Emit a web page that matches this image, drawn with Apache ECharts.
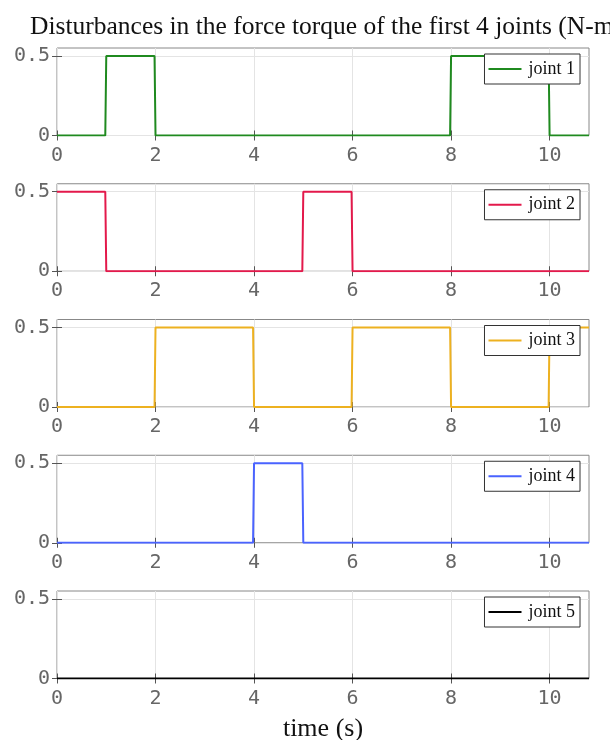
<!DOCTYPE html>
<html>
<head>
<meta charset="utf-8">
<script src="https://cdn.jsdelivr.net/npm/echarts@6/dist/echarts.min.js"></script>
<style>
  html, body { margin: 0; padding: 0; background: #fff; }
  #chart { width: 610px; height: 740px; }
</style>
</head>
<body>
<div id="chart"></div>
<script>
// Disturbance torque profiles, as [time (s), torque (N-m)] breakpoints
const joint1 = [[0, 0], [0.98, 0], [1.0, 0.5], [1.98, 0.5], [2.0, 0], [7.98, 0], [8.0, 0.5], [9.98, 0.5], [10.0, 0], [10.8, 0]];
const joint2 = [[0, 0.5], [0.98, 0.5], [1.0, 0], [4.98, 0], [5.0, 0.5], [5.98, 0.5], [6.0, 0], [10.8, 0]];
const joint3 = [[0, 0], [1.98, 0], [2.0, 0.5], [3.98, 0.5], [4.0, 0], [5.98, 0], [6.0, 0.5], [7.98, 0.5], [8.0, 0], [9.98, 0], [10.0, 0.5], [10.8, 0.5]];
const joint4 = [[0, 0], [3.98, 0], [4.0, 0.5], [4.98, 0.5], [5.0, 0], [10.8, 0]];
const joint5 = [[0, 0], [10.8, 0]];

const seriesNames = ['joint 1', 'joint 2', 'joint 3', 'joint 4', 'joint 5'];
const seriesData = [joint1, joint2, joint3, joint4, joint5];
const seriesColors = ['#1f8a1f', '#e3194b', '#edb120', '#4a63ff', '#000000'];

const timeTicks = [0, 2, 4, 6, 8, 10];
const torqueTicks = [0, 0.5];
const timeMax = 10.8;
const torqueMax = 0.55;

const titleText = 'Disturbances in the force torque of the first 4 joints (N-m)';
const xAxisTitle = 'time (s)';

const monoFont = 'DejaVu Sans Mono';
const serifFont = 'Liberation Serif';

const plotLeft = 57;
const plotRight = 21;
const plotTop0 = 48;
const plotStep = 135.75;
const plotHeight = 87.5;

const grids = [], xAxes = [], yAxes = [], series = [], legends = [];

function tickStyle(values) {
  return { show: true, inside: true, length: 5, customValues: values, lineStyle: { color: '#555', width: 1 } };
}

seriesNames.forEach(function (name, i) {
  const top = plotTop0 + i * plotStep;
  grids.push({
    left: plotLeft, right: plotRight, top: top, height: plotHeight,
    outerBoundsMode: 'none', containLabel: false,
    show: true, borderColor: '#888', borderWidth: 1, backgroundColor: '#fff'
  });
  // bottom time axis with labels and grid lines
  xAxes.push({
    type: 'value', gridIndex: i, min: 0, max: timeMax, interval: 2,
    axisLine: { show: false },
    axisTick: tickStyle(timeTicks),
    axisLabel: {
      fontFamily: monoFont, fontSize: 20, color: '#666', margin: 10,
      customValues: timeTicks,
      formatter: function (v) { return timeTicks.indexOf(v) >= 0 ? String(v) : ''; }
    },
    splitLine: { show: true, lineStyle: { color: '#e4e4e4', width: 1 } },
    name: i === seriesNames.length - 1 ? xAxisTitle : '',
    nameLocation: 'middle', nameGap: 38, nameMoveOverlap: false,
    nameTextStyle: { fontFamily: serifFont, fontSize: 26, color: '#111' }
  });
  // mirrored ticks along the top edge
  xAxes.push({
    type: 'value', gridIndex: i, min: 0, max: timeMax, interval: 2, position: 'top',
    axisLine: { show: false }, axisTick: tickStyle(timeTicks),
    axisLabel: { show: false }, splitLine: { show: false }
  });
  // left torque axis
  yAxes.push({
    type: 'value', gridIndex: i, min: 0, max: torqueMax, interval: 0.5,
    axisLine: { show: false },
    axisTick: tickStyle(torqueTicks),
    axisLabel: {
      fontFamily: monoFont, fontSize: 20, color: '#666', margin: 7,
      customValues: torqueTicks,
      formatter: function (v) { return torqueTicks.indexOf(v) >= 0 ? String(v) : ''; }
    },
    splitLine: { show: true, lineStyle: { color: '#e4e4e4', width: 1 } }
  });
  // mirrored ticks along the right edge
  yAxes.push({
    type: 'value', gridIndex: i, min: 0, max: torqueMax, interval: 0.5, position: 'right',
    axisLine: { show: false }, axisTick: tickStyle(torqueTicks),
    axisLabel: { show: false }, splitLine: { show: false }
  });
  series.push({
    name: name, type: 'line',
    xAxisIndex: 2 * i, yAxisIndex: 2 * i,
    data: seriesData[i],
    showSymbol: false, symbol: 'none',
    lineStyle: { color: seriesColors[i], width: 2 },
    itemStyle: { color: seriesColors[i] },
    clip: true, z: 3
  });
  legends.push({
    data: [name],
    right: 30, top: top + 6,
    orient: 'vertical',
    icon: 'rect', itemWidth: 33, itemHeight: 2, itemGap: 0,
    backgroundColor: '#fff', borderColor: '#333', borderWidth: 1,
    padding: [6, 5, 6, 4],
    textStyle: { fontFamily: serifFont, fontSize: 18, color: '#111', padding: [0, 0, 0, 2] },
    selectedMode: false
  });
});

const chart = echarts.init(document.getElementById('chart'), null, { renderer: 'canvas' });
chart.setOption({
  animation: false,
  backgroundColor: '#fff',
  title: {
    text: titleText, left: 25, top: 9,
    textStyle: { fontFamily: serifFont, fontSize: 25.5, fontWeight: 'normal', color: '#111' }
  },
  grid: grids,
  xAxis: xAxes,
  yAxis: yAxes,
  legend: legends,
  series: series
});
</script>
</body>
</html>
